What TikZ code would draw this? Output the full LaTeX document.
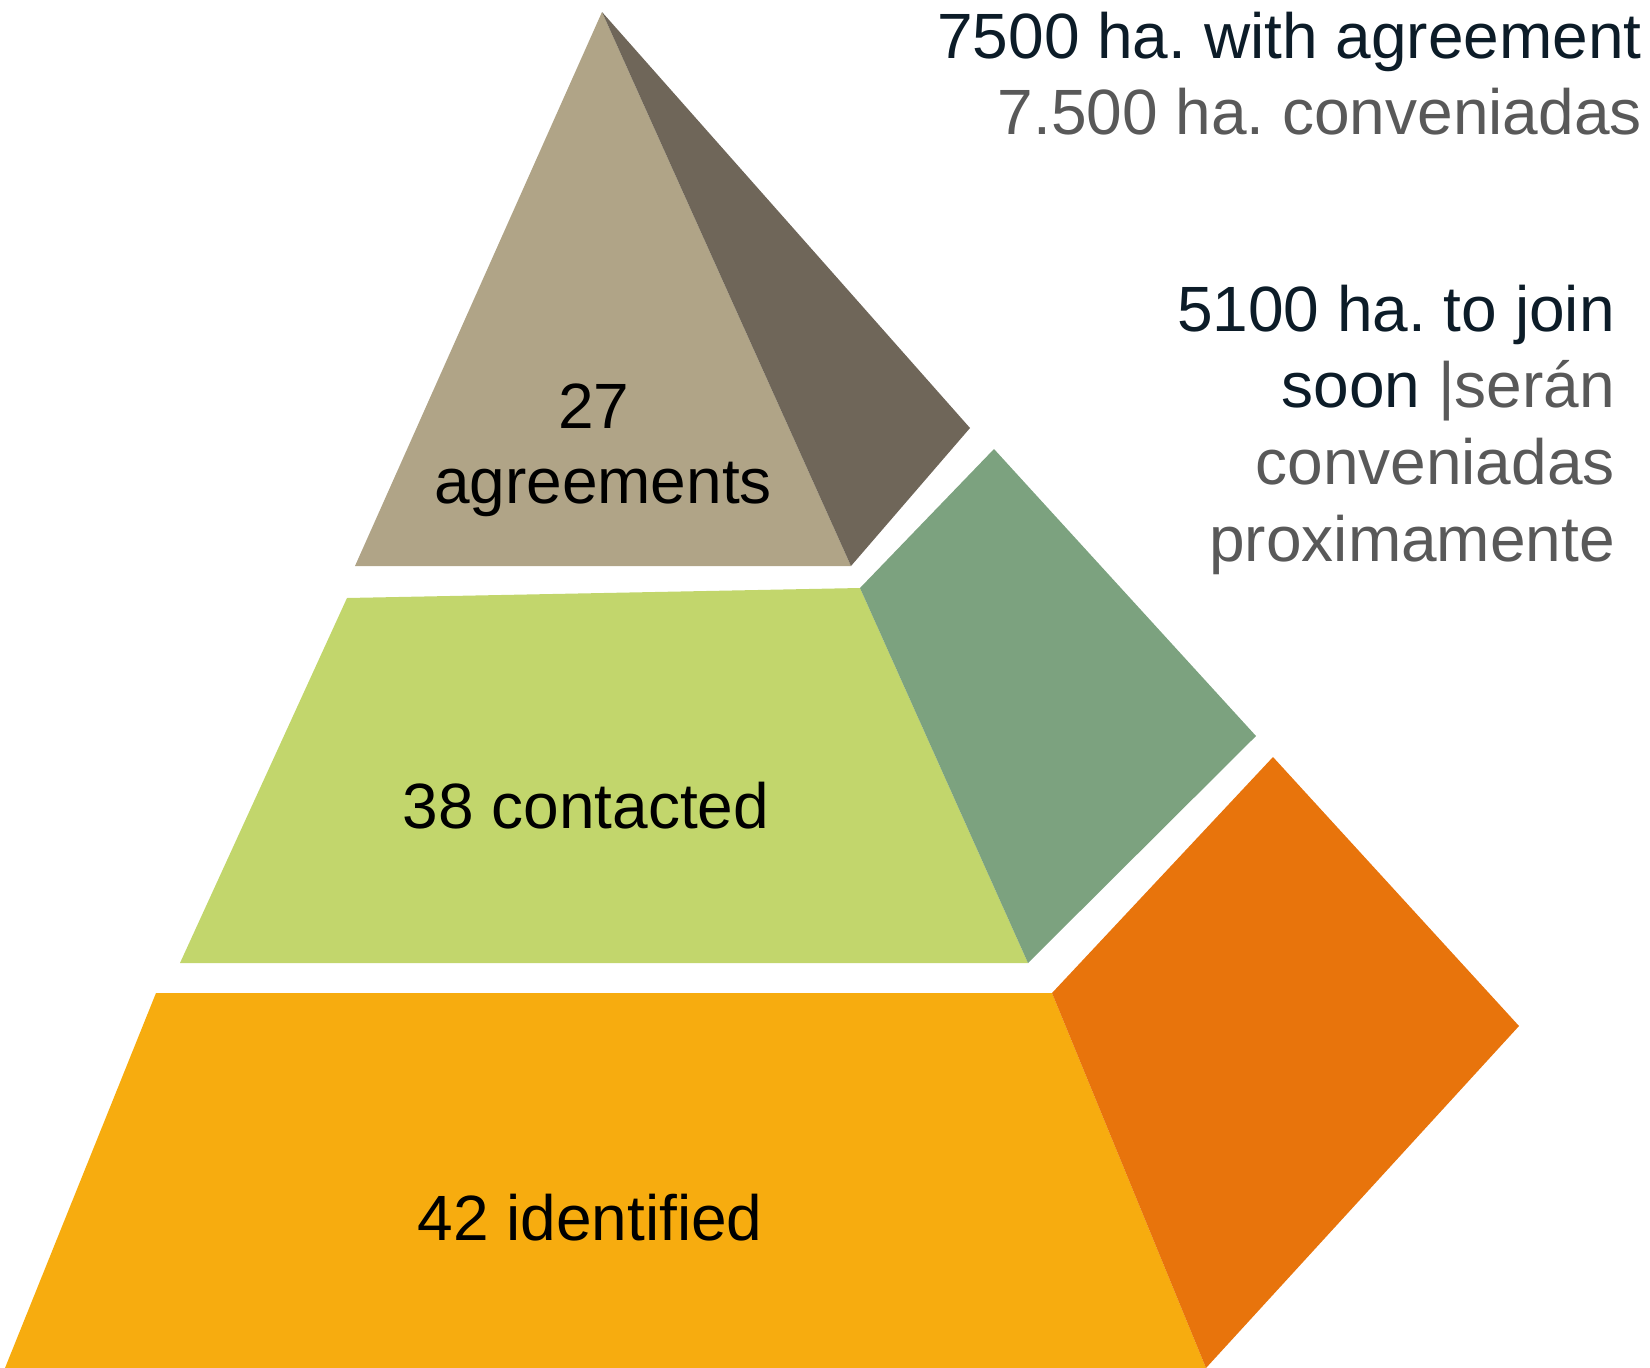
\documentclass[tikz,border=0pt]{standalone}
\usepackage{fontspec}
\setmainfont{Liberation Sans}
\usepackage{tikz}
\usetikzlibrary{positioning}
\usetikzlibrary{calc}
\frenchspacing
\definecolor{tanfront}{RGB}{176,164,135}
\definecolor{tanside}{RGB}{111,102,89}
\definecolor{limefront}{RGB}{194,214,108}
\definecolor{limeside}{RGB}{124,162,127}
\definecolor{goldfront}{RGB}{247,172,15}
\definecolor{goldside}{RGB}{232,116,12}
\definecolor{english}{RGB}{12,28,40}
\definecolor{spanish}{RGB}{89,89,89}
\tikzstyle{tierlabel}=[font=\fontsize{64}{76}\selectfont, text=black, inner sep=0pt, anchor=base]
\tikzstyle{sidenote}=[font=\fontsize{64}{76}\selectfont, text=english, inner sep=0pt, anchor=base east]

\begin{document}
\begin{tikzpicture}[x=1pt, y=-1pt]

    \useasboundingbox (0,0) rectangle (1650,1368);

    % First we fix the corners of the three tiers
    \foreach \pos/\name in {{(602,12)/apex}, {(355,566)/topL}, {(851,566)/topR}, {(970,428)/topC},
                            {(347,598)/midTL}, {(860,588)/midTR}, {(180,963)/midBL}, {(1028,963)/midBR},
                            {(994,449)/midCT}, {(1256,736)/midCR},
                            {(156,993)/lowTL}, {(1052,993)/lowTR}, {(5,1368)/lowBL}, {(1206,1368)/lowBR},
                            {(1273,757)/lowCT}, {(1519,1026)/lowCR}}
        \path \pos coordinate (\name);

    % Top tier
    \fill[tanfront] (apex) -- (topR) -- (topL) -- cycle;
    \fill[tanside] (apex) -- (topC) -- (topR) -- cycle;

    % Middle tier
    \fill[limefront] (midTL) -- (midTR) -- (midBR) -- (midBL) -- cycle;
    \fill[limeside] (midTR) -- (midCT) -- (midCR) -- (midBR) -- cycle;

    % Bottom tier
    \fill[goldfront] (lowTL) -- (lowTR) -- (lowBR) -- (lowBL) -- cycle;
    \fill[goldside] (lowTR) -- (lowCT) -- (lowCR) -- (lowBR) -- cycle;

    % Labels on the tiers
    \foreach \pos/\name/\label in {{(594,428)/n27/27}, {(603,503)/agreements/agreements},
                                   {(586,828)/contacted/38 contacted}, {(590,1240)/identified/42 identified}}
        \node[tierlabel] (\name) at \pos {\label};

    % Notes on the right
    \foreach \pos/\name/\label in {{(1642,58)/withagr/7500 ha. with agreement},
                                   {(1642,134)/conven/{\color{spanish}7.500 ha. conveniadas}},
                                   {(1615,331)/tojoin/5100 ha. to join},
                                   {(1615,407)/soon/soon {\color{spanish}|serán}},
                                   {(1615,484)/conveniadas/{\color{spanish}conveniadas}},
                                   {(1615,561)/proxim/{\color{spanish}proximamente}}}
        \node[sidenote] (\name) at \pos {\label};

\end{tikzpicture}
\end{document}
